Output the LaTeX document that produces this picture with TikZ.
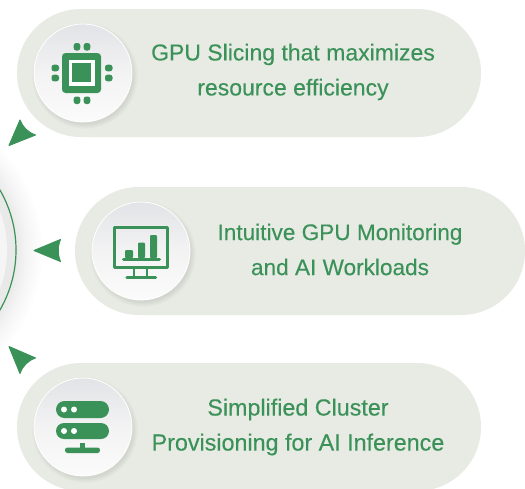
\documentclass[tikz,border=0pt]{standalone}
\usepackage{fontspec}
\setmainfont{Liberation Sans}[FakeBold=0.25]
\definecolor{pillc}{HTML}{E8EAE4}
\definecolor{gr}{HTML}{3B9259}
\definecolor{discA}{HTML}{E2E3E6}
\definecolor{discM}{HTML}{F3F3F4}
\definecolor{discB}{HTML}{FBFBFB}
\definecolor{hubA}{HTML}{E9E9E9}
\definecolor{hubB}{HTML}{F5F5F5}
\pgfdeclareradialshading{glow}{\pgfpoint{0bp}{0bp}}{color(0bp)=(white!92!black); color(18.9bp)=(white!92!black); color(20.5bp)=(white!96!black); color(23bp)=(white)}
\tikzset{
 x=1pt,y=-1pt,
 pill/.style={fill=pillc,rounded corners=64pt},
 disc/.style={circle,minimum size=98pt,inner sep=0pt,draw=white,line width=0.8pt,top color=discA,bottom color=discB,middle color=discM},
 label/.style={text=gr,align=center,inner sep=0pt},
 ink/.style={fill=gr,draw=none},
 line/.style={draw=gr,line cap=round},
 ptr/.style={fill=gr,draw=gr,line width=1pt,line join=round},
}
\newcommand{\discshadow}[2]{%
  \foreach \k in {0,...,6}{
    \fill[black,opacity=0.012] (#1+2,#2+3) circle[radius=53-\k*0.8];}%
}
\begin{document}
\begin{tikzpicture}
\useasboundingbox (0,0) rectangle (525,488);
\clip (0,0) rectangle (525,488);
% hub
\fill[white] (0,0) rectangle (525,488);
\shade[shading=glow] (-104,250) circle[radius=160];
\fill[hubA] (-104,250) circle[radius=119.5];
\fill[hubB] (-104,250) circle[radius=111];
\draw[gr,line width=1.2pt] (-104,250) circle[radius=120];
% pills
\path[pill] (17,9) rectangle (481,137);
\path[pill] (75,187) rectangle (525,315);
\path[pill] (17,363) rectangle (481,491);
% discs
\discshadow{83}{73}
\discshadow{141}{251}
\discshadow{83}{427}
\node[disc] (d1) at (83,73) {};
\node[disc] (d2) at (141,251) {};
\node[disc] (d3) at (83,427) {};
% chip
\fill[ink,rounded corners=3.5pt] (62,53) rectangle (101,93);
\fill[white] (69,59.5) rectangle (95,86);
\fill[ink] (72,63) rectangle (91,82);
\foreach \px in {77,87}{
  \fill[ink,rounded corners=2.5pt] (\px-3.3,43) rectangle (\px+3.3,50.5);
  \fill[ink,rounded corners=2.5pt] (\px-3.3,96.5) rectangle (\px+3.3,104);}
\foreach \py in {68,78}{
  \fill[ink,rounded corners=2.5pt] (51.5,\py-3.3) rectangle (59,\py+3.3);
  \fill[ink,rounded corners=2.5pt] (105,\py-3.3) rectangle (112.5,\py+3.3);}
% monitor
\draw[line,line width=3.4pt,line join=round] (114.5,227.5) rectangle (167.5,267.5);
\fill[ink,rounded corners=1pt] (125,250) rectangle (133,258);
\fill[ink,rounded corners=1pt] (138,242.5) rectangle (145,258);
\fill[ink,rounded corners=1pt] (150,235) rectangle (157,258);
\draw[line,line width=3pt] (123.5,259.5) -- (159.5,259.5);
\draw[line,line width=2.6pt,line cap=butt] (134,269) -- (134,277);
\draw[line,line width=2.6pt,line cap=butt] (147,269) -- (147,277);
\draw[line,line width=3.4pt] (127,277.5) -- (155.5,277.5);
% server
\fill[ink,rounded corners=8.5pt] (56,401) rectangle (109,418);
\fill[ink,rounded corners=8pt] (56,423) rectangle (109,439);
\foreach \dx in {64,74}{
  \fill[white] (\dx,409.5) circle[radius=3];
  \fill[white] (\dx,431) circle[radius=3];}
\fill[ink] (80,443) rectangle (85,449);
\fill[ink,rounded corners=2.5pt] (65,447.5) rectangle (100,453);
% arrows
\path[ptr] (9,145.5) -- (20,120) .. controls (22.5,127) and (28,132.5) .. (35.5,135) -- cycle;
\path[ptr] (34,250.5) -- (60.5,239.5) .. controls (57.5,246) and (57.5,255) .. (60.5,261.5) -- cycle;
\path[ptr] (9,346.5) -- (35.5,358) .. controls (28,360.5) and (22.5,366) .. (20,373.5) -- cycle;
% text
\node[label,font=\fontsize{23}{35}\selectfont] (t1) at (293,72) {GPU Slicing that maximizes\\resource efficiency};
\node[label,font=\fontsize{22.6}{35}\selectfont] (t2) at (340,249.5) {Intuitive GPU Monitoring\\and AI Workloads};
\node[label,font=\fontsize{23.3}{35}\selectfont] (t3) at (298,427) {Simplified Cluster\\Provisioning for AI Inference};
\end{tikzpicture}
\end{document}
